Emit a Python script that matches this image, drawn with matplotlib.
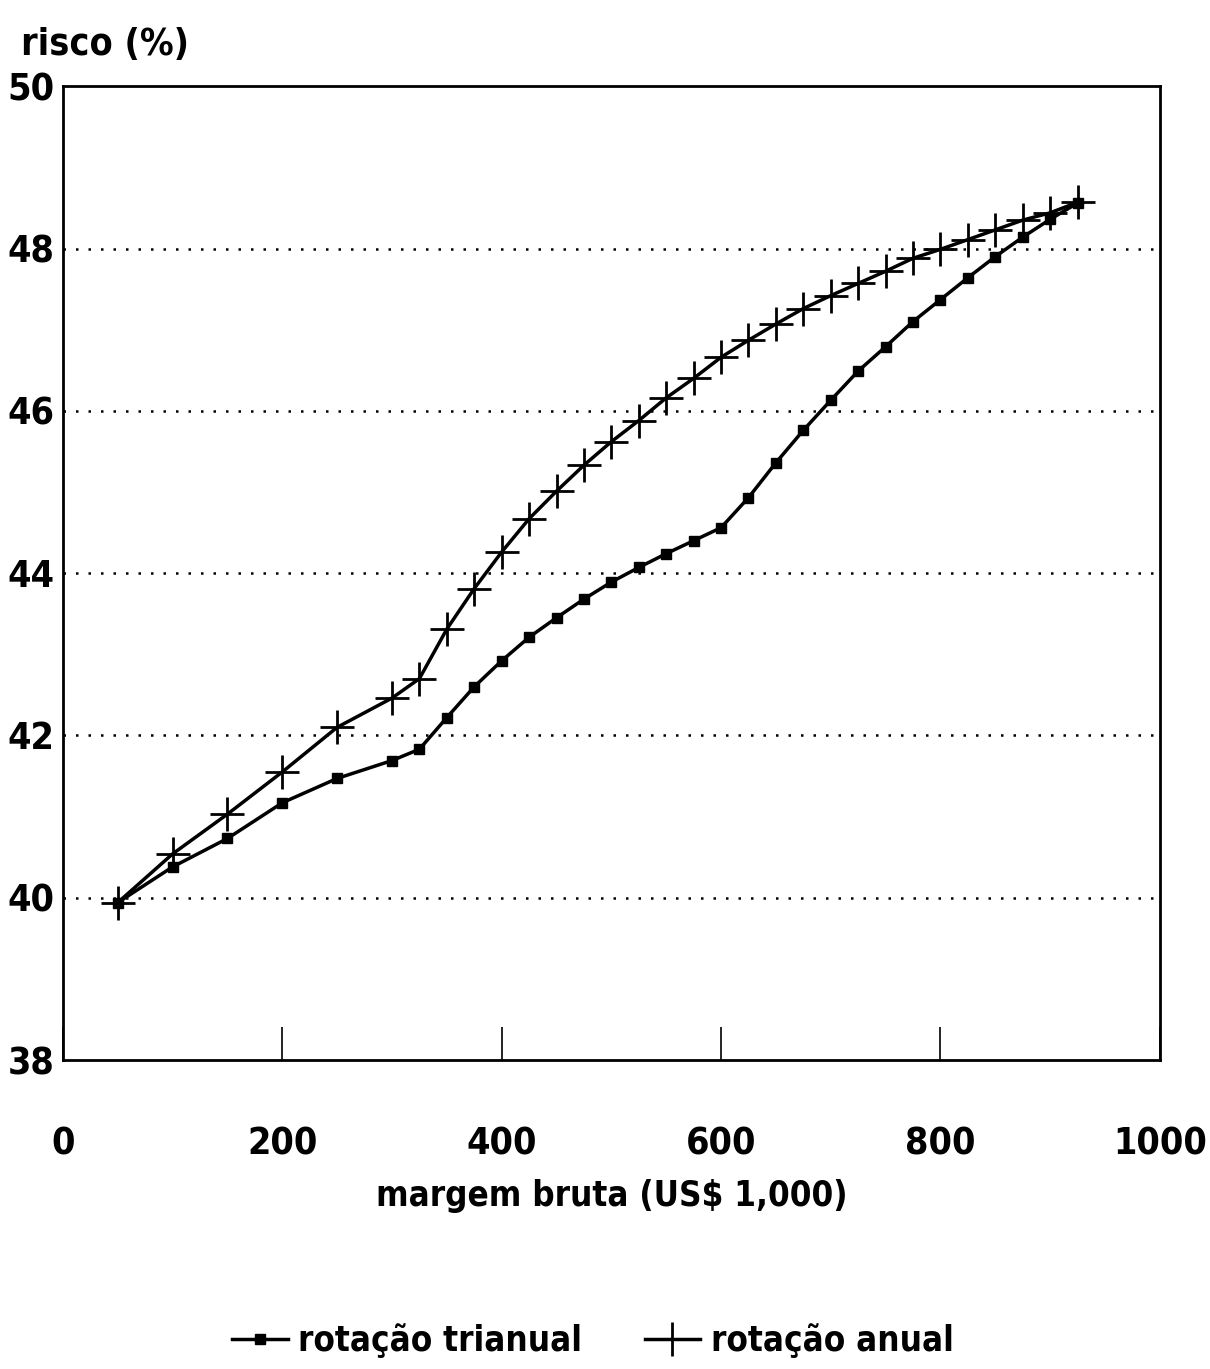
import matplotlib
matplotlib.use('Agg')
import matplotlib.pyplot as plt

plt.rcParams['font.family'] = ['DejaVu Sans']
plt.rcParams['font.stretch'] = 'condensed'
plt.rcParams['font.weight'] = 'bold'
plt.rcParams['axes.labelweight'] = 'bold'

# margem bruta (US$ 1,000)
margem = [50, 100, 150, 200, 250, 300, 325, 350, 375, 400, 425, 450, 475, 500,
          525, 550, 575, 600, 625, 650, 675, 700, 725, 750, 775, 800, 825, 850,
          875, 900, 925]

# risco (%)
trianual = [39.94, 40.38, 40.73, 41.17, 41.47, 41.69, 41.83, 42.22, 42.60, 42.92,
            43.21, 43.45, 43.68, 43.89, 44.07, 44.24, 44.40, 44.56, 44.93, 45.36,
            45.76, 46.13, 46.49, 46.79, 47.10, 47.37, 47.64, 47.90, 48.14, 48.36,
            48.56]
anual = [39.94, 40.54, 41.03, 41.55, 42.10, 42.46, 42.70, 43.31, 43.81, 44.26,
         44.67, 45.01, 45.33, 45.62, 45.88, 46.16, 46.40, 46.66, 46.87, 47.07,
         47.26, 47.42, 47.57, 47.72, 47.88, 47.99, 48.11, 48.23, 48.35, 48.44,
         48.57]

fig = plt.figure(figsize=(12.1, 13.69), dpi=100)
ax = fig.add_axes([0.052, 0.2257, 0.9065, 0.7113])

for yv in [40, 42, 44, 46, 48]:
    ax.axhline(yv, color='black', linestyle=(0, (1, 4)), linewidth=1.8, zorder=1)

ax.plot(margem, trianual, color='black', linewidth=2.5, marker='s', markersize=6.5,
        label='rotação trianual', zorder=3)
ax.plot(margem, anual, color='black', linewidth=2.5, marker='+', markersize=24,
        markeredgewidth=2, label='rotação anual', zorder=3)

ax.set_xlim(0, 1000)
ax.set_ylim(38, 50)
ax.set_xticks([0, 200, 400, 600, 800, 1000])
ax.set_yticks([38, 40, 42, 44, 46, 48, 50])
ax.tick_params(axis='x', direction='in', length=24, width=1.2, pad=48, labelsize=27)
ax.tick_params(axis='y', length=0, pad=6, labelsize=27)
for s in ax.spines.values():
    s.set_linewidth(2)

ax.set_xlabel('margem bruta (US$ 1,000)', fontsize=25, labelpad=12)
fig.text(0.017, 0.967, 'risco (%)', fontsize=27, ha='left', va='center')

fig.legend(loc='center', bbox_to_anchor=(0.49, 0.021), ncol=2, frameon=False,
           fontsize=25, handlelength=1.6, columnspacing=1.8, handletextpad=0.3)

plt.savefig('out.png', dpi=100)
